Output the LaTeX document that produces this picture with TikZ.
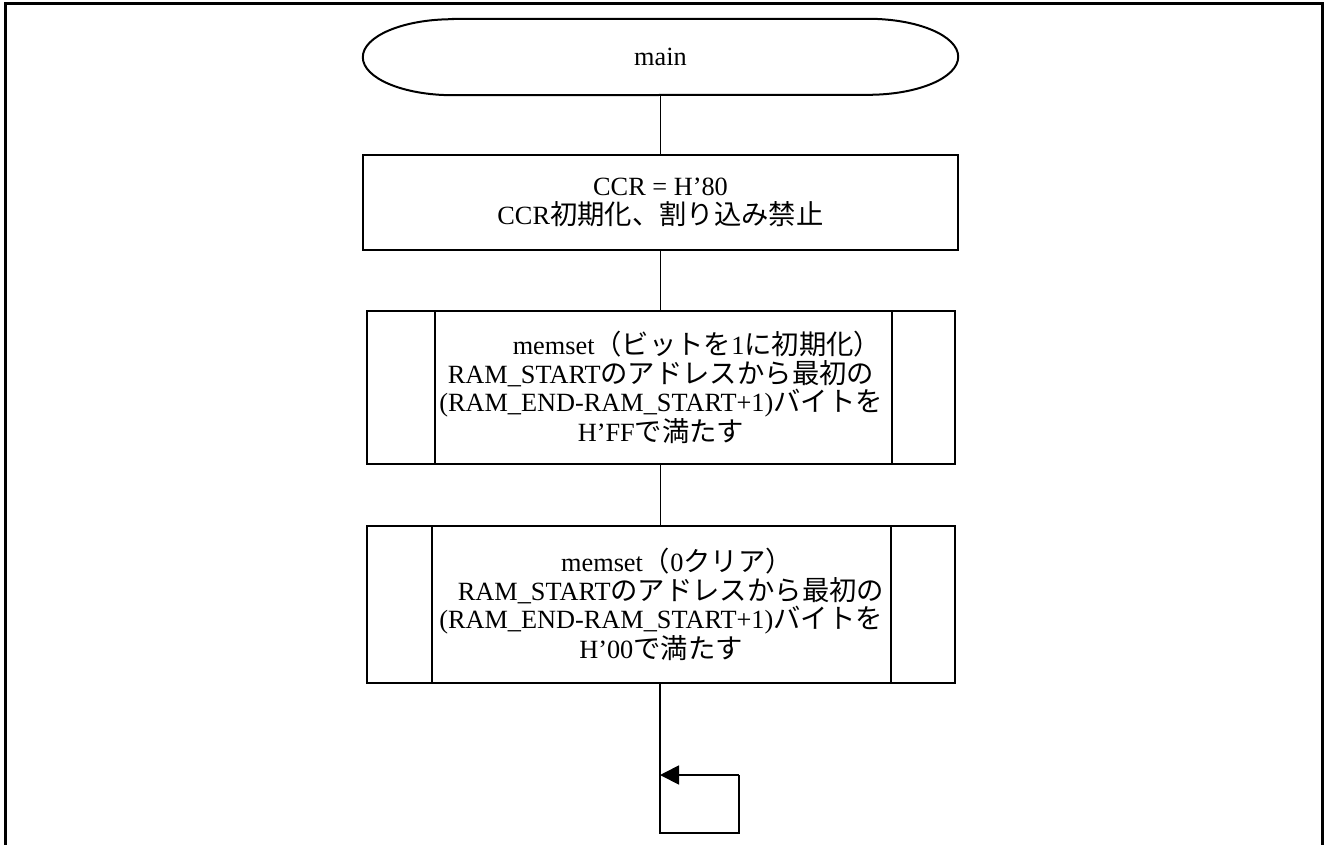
\documentclass[tikz,border=0pt]{standalone}
\usepackage{fontspec}
\setmainfont{Liberation Serif}
\newfontfamily\jpfont[Scale=1.04]{Noto Sans CJK JP}
\usetikzlibrary{arrows.meta}
\newcommand{\J}[1]{{\jpfont #1}}
\begin{document}
\begin{tikzpicture}[x=1pt,y=-1pt,
  every node/.style={font=\fontsize{26.3}{28.5}\selectfont},
  proc/.style={draw, line width=2pt, minimum width=595pt, minimum height=95pt, align=center, inner sep=0pt},
  subr/.style={draw, line width=2pt, minimum width=588pt, align=center, inner sep=0pt},
  conn/.style={line width=1.8pt},
  framepart/.style={line width=3pt}]
\useasboundingbox (0,0) rectangle (1324,845);
\draw[framepart] (5,852) -- (5,4) -- (1322,4) -- (1322,852);

% terminal
\node[minimum width=595pt, minimum height=76pt, inner sep=0pt] (start) at (660.5,57) {main};
\draw[line width=2pt] ([xshift=90pt]start.north west) -- ([xshift=-90pt]start.north east)
  arc[start angle=90,end angle=-90,x radius=90pt,y radius=38pt]
  -- ([xshift=90pt]start.south west)
  arc[start angle=270,end angle=90,x radius=90pt,y radius=38pt] -- cycle;

% process
\node[proc] (ccr) at (660.5,202.5) {CCR = H’80\\CCR\J{初期化、割り込み禁止}};

% subroutine 1
\node[subr, minimum height=153pt] (m1) at (661,387.5)
  {\hspace*{72pt}memset\J{（ビットを}1\J{に初期化）}\\RAM\_START\J{のアドレスから最初の}\\(RAM\_END-RAM\_START+1)\J{バイトを}\\H’FF\J{で満たす}};
\draw[line width=2pt] ([xshift=69pt]m1.north west) -- ([xshift=69pt]m1.south west);
\draw[line width=2pt] ([xshift=-64pt]m1.north east) -- ([xshift=-64pt]m1.south east);

% subroutine 2
\node[subr, minimum height=157pt] (m2) at (661,604.5)
  {\hspace*{32pt}memset\J{（}0\J{クリア）}\\\hspace*{20pt}RAM\_START\J{のアドレスから最初の}\\(RAM\_END-RAM\_START+1)\J{バイトを}\\H’00\J{で満たす}};
\draw[line width=2pt] ([xshift=66pt]m2.north west) -- ([xshift=66pt]m2.south west);
\draw[line width=2pt] ([xshift=-65pt]m2.north east) -- ([xshift=-65pt]m2.south east);

% loop coordinates
\coordinate (c1) at (660,833);
\coordinate (c2) at (739,833);
\coordinate (c3) at (739,775);
\coordinate (c4) at (660,775);

% connectors
\draw[conn] (start.south) -- (ccr.north);
\draw[conn] (ccr.south) -- (ccr.south |- m1.north);
\draw[conn] (m1.south -| ccr.south) -- (m2.north -| ccr.south);
\draw[conn] (m2.south -| c1) -- (c1) -- (c2) -- (c3);
\draw[conn,-{Triangle[length=19pt,width=19pt]}] (c3) -- (c4);
\end{tikzpicture}
\end{document}
